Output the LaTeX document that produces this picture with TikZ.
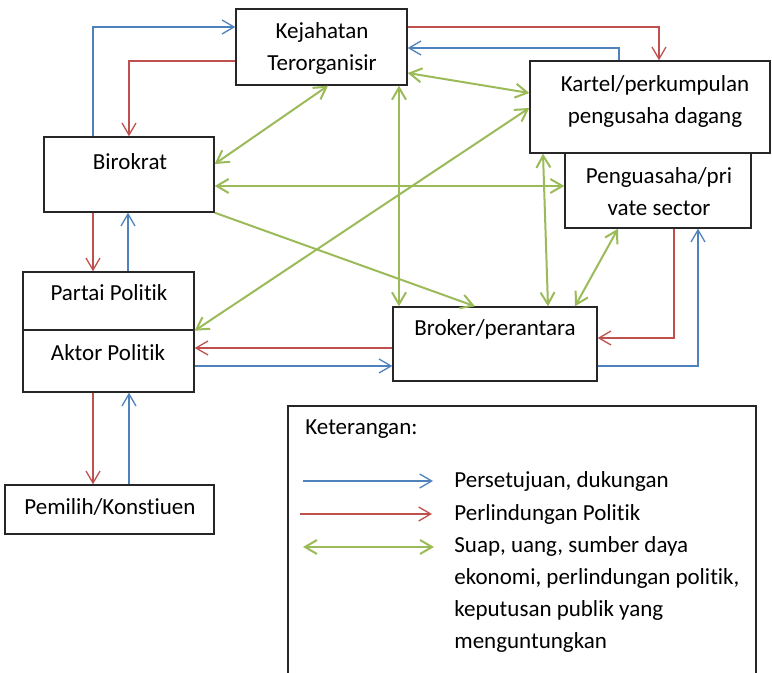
\documentclass[tikz,border=0pt]{standalone}
\usepackage{fontspec}
\setmainfont{Carlito}[Ligatures=NoCommon]
\usetikzlibrary{arrows.meta,fit}

\definecolor{lnblue}{RGB}{79,129,189}
\definecolor{lnred}{RGB}{192,80,77}
\definecolor{lngreen}{RGB}{155,187,89}

\tikzstyle{box} = [draw=black!85, line width=0.7pt, inner sep=0pt]
\tikzstyle{txt} = [font=\fontsize{11.5}{16}\selectfont, align=center, inner sep=0pt]
\tikzstyle{blu} = [->, >={Straight Barb[length=6pt,width=7pt]}, lnblue, line width=0.65pt]
\tikzstyle{rd} = [->, >={Straight Barb[length=6pt,width=7pt]}, lnred, line width=0.65pt]
\tikzstyle{grn} = [<->, >={Straight Barb[length=6pt,width=7pt]}, lngreen, line width=1pt]
\tikzstyle{grnone} = [->, >={Straight Barb[length=6pt,width=7pt]}, lngreen, line width=1pt]

\begin{document}
\begin{tikzpicture}[x=0.5pt,y=-0.5pt]
\useasboundingbox (0,0) rectangle (772,673);

% boxes
\node[box, fit={(236,9) (407,85)}] (kej) {};
\node[box, fit={(530,61) (770,153)}] (kar) {};
\node[box, fit={(565,153) (751,228)}] (peng) {};
\node[box, fit={(44,137) (214,212)}] (bir) {};
\node[box, fit={(23,272) (194,330)}] (par) {};
\node[box, fit={(23,330) (194,392)}] (akt) {};
\node[box, fit={(5,485) (214,534)}] (pem) {};
\node[box, fit={(393,307) (597,381)}] (bro) {};

\node[txt] (kejt) at (322,48) {Kejahatan\\Terorganisir};
\node[txt] (kart) at (655,101) {Kartel/perkumpulan\\pengusaha dagang};
\node[txt] (pengt) at (659,192) {Penguasaha/pri\\vate sector};
\node[txt] (birt) at (130,162) {Birokrat};
\node[txt] (part) at (109,293) {Partai Politik};
\node[txt] (aktt) at (108,353) {Aktor Politik};
\node[txt] (pemt) at (110,507) {Pemilih/Konstiuen};
\node[txt] (brot) at (495,329) {Broker/perantara};

% blue
\draw[blu] (bir.north -| 93,0) |- (kej.west |- 0,27);
\draw[blu] (kar.north -| 619,0) |- (kej.east |- 0,48);
\draw[blu] (par.north -| 128,0) -- (bir.south -| 128,0);
\draw[blu] (pem.north -| 129,0) -- (akt.south -| 129,0);
\draw[blu] (akt.east |- 0,366) -- (bro.west |- 0,366);
\draw[blu] (bro.east |- 0,366) -| (peng.south -| 698,0);

% red
\draw[rd] (kej.west |- 0,61) -| (bir.north -| 129,0);
\draw[rd] (kej.east |- 0,27) -| (kar.north -| 659,0);
\draw[rd] (bir.south -| 93,0) -- (par.north -| 93,0);
\draw[rd] (akt.south -| 93,0) -- (pem.north -| 93,0);
\draw[rd] (bro.west |- 0,348) -- (akt.east |- 0,348);
\draw[rd] (peng.south -| 674,0) |- (bro.east |- 0,338);

% green
\draw[grn] (kej.south -| 328,0) -- (bir.east |- 0,164);
\draw[grn] (bir.east |- 0,186) -- (peng.west |- 0,186);
\draw[grnone] (bir.south east) -- (bro.north -| 475,0);
\draw[grn] (kej.east |- 0,73) -- (kar.west |- 0,93);
\draw[grn] (kej.south -| 399,0) -- (bro.north -| 399,0);
\draw[grn] (kar.west |- 0,108) -- (par.south east);
\draw[grn] (kar.south -| 543,0) -- (bro.north -| 548,0);
\draw[grn] (peng.south -| 618,0) -- (bro.north -| 575,0);

% legend
\draw[box] (288,673) |- (756,406) -- (756,673);
\node[txt, anchor=west] (ket) at (305,429) {Keterangan:};
\coordinate (lb1) at (303,481);
\coordinate (lb2) at (433,481);
\coordinate (lr1) at (300,514);
\coordinate (lr2) at (432,514);
\coordinate (lg1) at (303,547);
\coordinate (lg2) at (434,547);
\draw[blu] (lb1) -- (lb2);
\draw[rd] (lr1) -- (lr2);
\draw[grn] (lg1) -- (lg2);
\node[txt, anchor=west] (lbt) at (454,481) {Persetujuan, dukungan};
\node[txt, anchor=west] (lrt) at (454,514) {Perlindungan Politik};
\node[txt, anchor=north west, align=left] (lgt) at (454,536) {Suap, uang, sumber daya\\ekonomi, perlindungan politik,\\keputusan publik yang\\menguntungkan};

\end{tikzpicture}
\end{document}
